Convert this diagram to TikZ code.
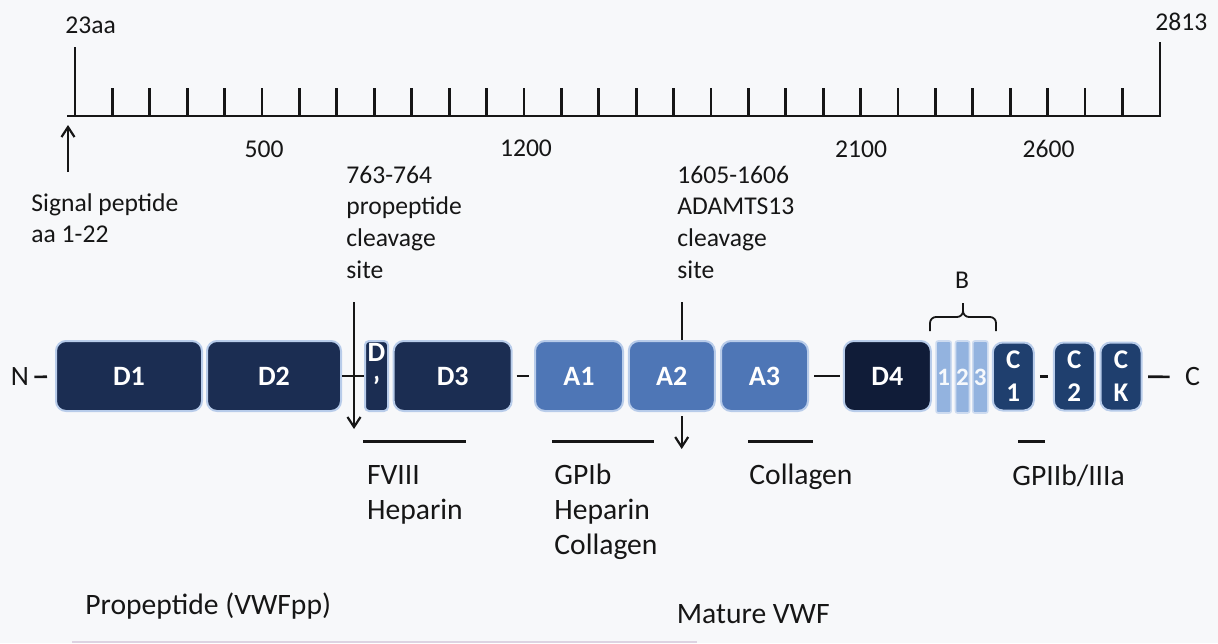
\documentclass[tikz,border=0pt]{standalone}
\usepackage{fontspec}
\setmainfont{Carlito}
\usetikzlibrary{arrows.meta}
\definecolor{bg}{HTML}{F7F8FA}
\definecolor{dnavy}{HTML}{1B2D52}
\definecolor{ddark}{HTML}{101C38}
\definecolor{ablue}{HTML}{4E76B6}
\definecolor{bblue}{HTML}{93B3DF}
\definecolor{cnavy}{HTML}{1F3F6E}
\definecolor{glow}{HTML}{B8CCEA}
\definecolor{txt}{HTML}{161616}
\definecolor{lav}{HTML}{DDD3E2}
\tikzset{
  dom/.style={rounded corners=5pt, draw=glow, line width=1pt, minimum height=35pt,
    inner sep=0pt, text=white, font=\fontsize{14}{16.5}\selectfont\bfseries, align=center},
  cdom/.style={dom, minimum width=20.5pt, minimum height=34pt, fill=cnavy,
    font=\fontsize{13.5}{16.5}\selectfont\bfseries},
  bstrip/.style={rounded corners=1pt, draw=glow!70!white, line width=0.8pt, fill=bblue,
    minimum height=36pt, inner sep=0pt, text=white!92!bblue, font=\fontsize{12.5}{14}\selectfont\bfseries},
  boxtxt/.style={inner sep=0pt, text=white, font=\fontsize{14}{16.5}\selectfont\bfseries},
  lbl/.style={inner sep=0pt, text=txt, font=\fontsize{12.8}{15.85}\selectfont, anchor=base west},
  blbl/.style={lbl, font=\fontsize{14.8}{17.5}\selectfont},
  conn/.style={line width=1.3pt, draw=txt},
  bindbar/.style={line width=1.5pt, draw=txt},
  ruler/.style={line width=1.4pt, draw=txt},
  arr/.style={line width=1.1pt, draw=txt, -{Straight Barb[length=5pt,width=6.5pt]}},
  bracestyle/.style={line width=0.9pt, draw=txt, rounded corners=3pt},
}
\begin{document}
\begin{tikzpicture}[x=0.5pt,y=-0.5pt]
\useasboundingbox[fill=bg] (0,0) rectangle (1218,643);

% ruler
\draw[ruler] (67,116) -- (1160,116) -- (1160,42);
\draw[ruler] (75,116) -- (75,47);
\foreach \k in {1,...,28} \draw[ruler] ({75+37.41*\k},116) -- ({75+37.41*\k},88);
\node[lbl] (r23) at (65,33) {23aa};
\node[lbl] (r2813) at (1155,30) {2813};
\node[lbl, anchor=base] (r500) at (264,157) {500};
\node[lbl, anchor=base] (r1200) at (526,156.5) {1200};
\node[lbl, anchor=base] (r2100) at (861,157) {2100};
\node[lbl, anchor=base] (r2600) at (1048.5,157) {2600};

% signal peptide
\coordinate (sigbot) at (68,172);
\coordinate (sigtip) at (68,125);
\draw[arr] (sigbot) -- (sigtip);
\node[lbl] (sp1) at (31,211.7) {Signal peptide};
\node[lbl] (sp2) at (31,242.3) {aa 1-22};

% propeptide cleavage
\node[lbl] (pc1) at (346,183) {763-764};
\node[lbl] (pc2) at (346,214.7) {propeptide};
\node[lbl] (pc3) at (346,246.3) {cleavage};
\node[lbl] (pc4) at (346,278) {site};

% ADAMTS13 cleavage
\node[lbl] (ad1) at (677,183) {1605-1606};
\node[lbl] (ad2) at (677,214.7) {ADAMTS13};
\node[lbl] (ad3) at (677,246.3) {cleavage};
\node[lbl] (ad4) at (677,278) {site};

% domains
\node[dom, fill=dnavy, minimum width=73pt] (D1) at (129,376) {D1};
\node[dom, fill=dnavy, minimum width=67pt] (D2) at (274,376) {D2};
\node[dom, fill=dnavy, minimum width=11.5pt, rounded corners=2pt] (Dp) at (376.5,376) {};
\node[boxtxt, anchor=base] (DpD) at (376.5,361) {D};
\node[boxtxt, anchor=base] (Dpq) at (376.5,396) {’};
\node[dom, fill=dnavy, minimum width=59pt] (D3) at (452.7,376) {D3};
\node[dom, fill=ablue, minimum width=44pt] (A1) at (579,376) {A1};
\node[dom, fill=ablue, minimum width=43pt] (A2) at (671.8,376) {A2};
\node[dom, fill=ablue, minimum width=43.5pt] (A3) at (764.5,376) {A3};
\node[dom, fill=ddark, minimum width=43.5pt] (D4) at (887.3,376) {D4};
\node[bstrip, minimum width=7.5pt] (B1) at (943.6,377) {1};
\node[bstrip, minimum width=7pt] (B2) at (962.5,377) {2};
\node[bstrip, minimum width=7.5pt] (B3) at (980.3,377) {3};
\node[cdom] (C1) at (1013.3,376.5) {C\\1};
\node[cdom] (C2) at (1074.3,376.5) {C\\2};
\node[cdom] (CK) at (1121,376.5) {C\\K};

\node[lbl, anchor=center, font=\fontsize{14}{16}\selectfont] (N) at (20,377) {N};
\node[lbl, anchor=center, font=\fontsize{14}{16}\selectfont] (C) at (1192.5,377) {C};

% connectors
\draw[conn, shorten <=2.5pt, shorten >=4pt] (N) -- (D1);
\draw[conn] (D2) -- (Dp);
\draw[conn, shorten <=2pt, shorten >=2.5pt] (D3) -- (A1);
\draw[conn, shorten <=2.5pt, shorten >=1.5pt] (A3) -- (D4);
\draw[conn, shorten <=2.5pt, shorten >=2.5pt] (C1) -- (C2);
\draw[conn, shorten <=2.75pt, shorten >=7.5pt] (CK) -- (C);

% cleavage arrows
\coordinate (pctop) at (354,302);
\coordinate (pctip) at (354,429);
\draw[arr] (pctop) -- (pctip);
\coordinate (adtop) at (681.7,302);
\coordinate (adbot) at (681.7,416);
\coordinate (adtip) at (681.7,449);
\draw[conn, line width=1.1pt] (adtop) -- (adtop |- A2.north);
\draw[arr] (adbot) -- (adtip);

% B brace
\node[lbl, anchor=base] (B) at (962,288) {B};
\draw[bracestyle] (930,331) -- (930,317) -- (963,317) -- (963,303);
\draw[bracestyle] (996,331) -- (996,317) -- (963,317) -- (963,303);

% binding bars
\draw[bindbar] (363,441) -- (466,441);
\draw[bindbar] (552,441) -- (654,441);
\draw[bindbar] (748,441) -- (813,441);
\draw[bindbar] (1018,441) -- (1045,441);

\node[blbl] (f1) at (366.7,484) {FVIII};
\node[blbl] (f2) at (366.7,519.3) {Heparin};
\node[blbl] (g1) at (554,484.3) {GPIb};
\node[blbl] (g2) at (554,519.3) {Heparin};
\node[blbl] (g3) at (554,554.3) {Collagen};
\node[blbl] (col) at (749,484) {Collagen};
\node[blbl] (gp) at (1012,485) {GPIIb/IIIa};

\node[blbl] (prop) at (85,614.3) {Propeptide (VWFpp)};
\node[blbl] (mat) at (676.5,623) {Mature VWF};
\draw[line width=1pt, draw=lav] (72,642) -- (697,642);
\end{tikzpicture}
\end{document}
